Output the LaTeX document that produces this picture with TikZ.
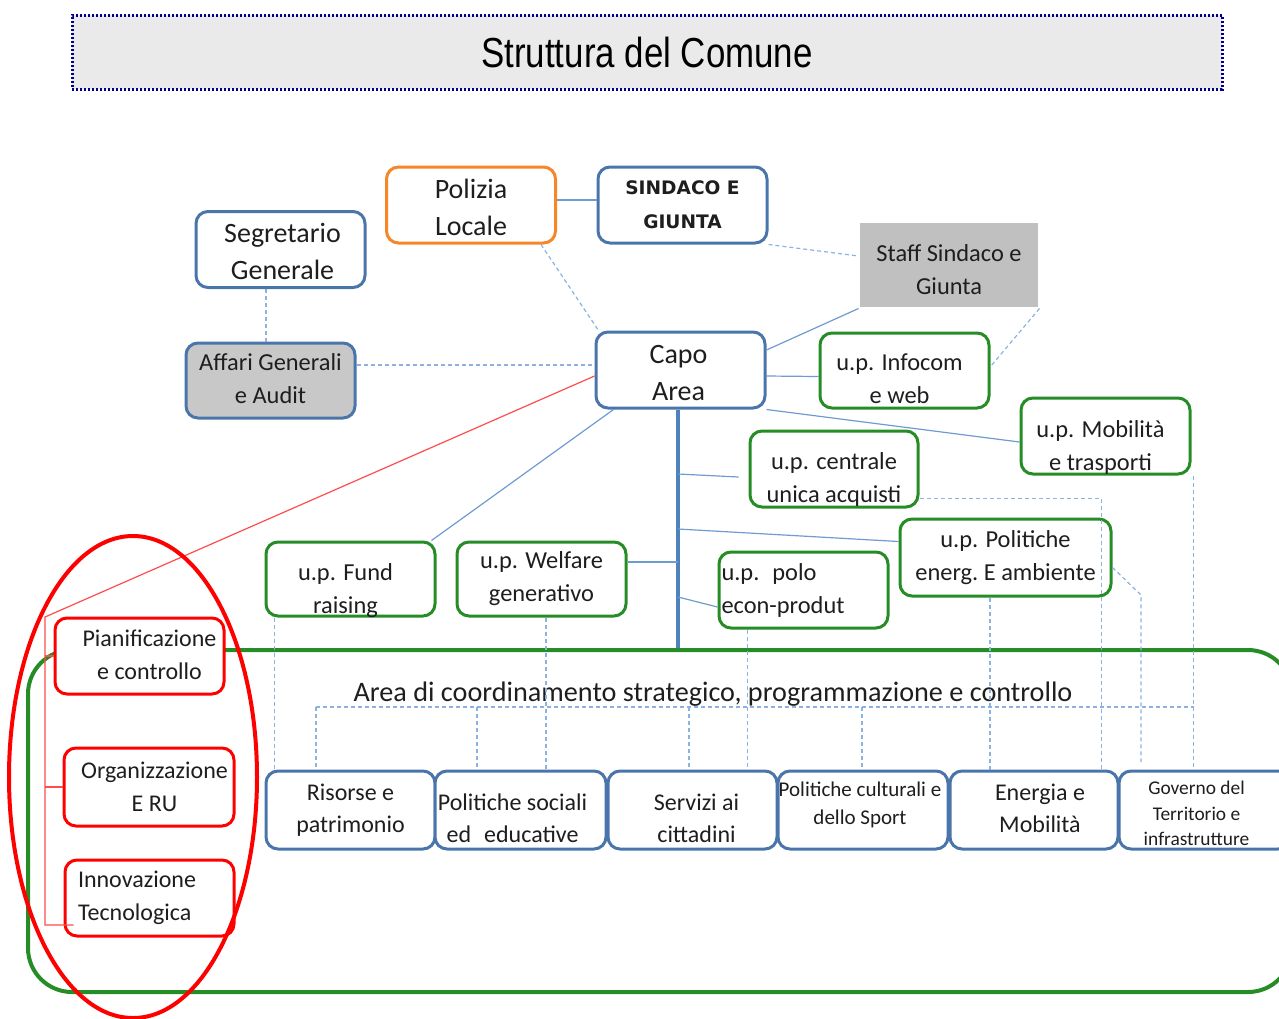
\documentclass[tikz,border=0pt]{standalone}
\usepackage{fontspec}
\setmainfont{Carlito}
\newfontfamily\titlefont[FakeStretch=0.83]{Liberation Sans}
\newfontfamily\giuntafont{DejaVu Sans}

\definecolor{boxblue}{RGB}{74,117,170}
\definecolor{boxgreen}{RGB}{38,140,38}
\definecolor{boxorange}{RGB}{247,134,40}
\definecolor{linkblue}{RGB}{110,155,210}
\definecolor{dashblue}{RGB}{140,178,226}
\definecolor{trunkblue}{RGB}{79,129,189}
\definecolor{titlenavy}{RGB}{0,0,140}
\definecolor{titlegray}{RGB}{234,234,234}
\definecolor{staffgray}{RGB}{192,192,192}
\definecolor{affgray}{RGB}{200,200,200}
\definecolor{txt}{RGB}{30,30,30}

% testo spostato di (#1 a destra, #2 in basso)
\newcommand\txtat[3]{\raisebox{-#2}[\height][\depth]{\kern#1\begin{tabular}{@{}c@{}}#3\end{tabular}\kern-#1}}

\begin{document}
\begin{tikzpicture}[x=0.5pt,y=-0.5pt]
	\tikzstyle{bx}=[rectangle, rounded corners=6pt, line width=1.5pt, fill=white, text=txt, inner sep=0pt, align=center, minimum width=84.5pt, minimum height=38pt]
	\tikzstyle{bb}=[bx, draw=boxblue, font=\fontsize{14}{18.5}\selectfont]
	\tikzstyle{ob}=[bx, draw=boxorange, font=\fontsize{14}{18.5}\selectfont]
	\tikzstyle{gb}=[bx, draw=boxgreen, font=\fontsize{12.2}{16.5}\selectfont]
	\tikzstyle{rb}=[bx, draw=red, font=\fontsize{12}{16.5}\selectfont]
	\tikzstyle{lb}=[bx, draw=boxblue, minimum height=39pt, font=\fontsize{12}{16}\selectfont]
	\tikzstyle{sl}=[linkblue, line width=0.6pt]
	\tikzstyle{dl}=[dashblue, line width=0.6pt, dash pattern=on 2pt off 1.5pt]
	\tikzstyle{rl}=[red!70, line width=0.6pt]

	\useasboundingbox (0,0) rectangle (1279,1018);

	% title
	\node[draw=titlenavy, fill=titlegray, line width=1.5pt, dash pattern=on 1pt off 1pt, minimum width=575pt, minimum height=37pt, inner sep=0pt, font=\titlefont\fontsize{21}{25}\selectfont] (title) at (647,52) {Struttura del Comune};

	% area di coordinamento
	\node[draw=boxgreen, line width=2pt, rounded corners=22pt, minimum width=632pt, minimum height=171pt, inner sep=0pt] (area) at (660,821) {};
	\node[text=txt, font=\fontsize{14.1}{17}\selectfont] (arealbl) at (713,694) {Area di coordinamento strategico, programmazione e controllo};

	% vertici
	\node[ob] (pol) at (471,205) {\txtat{0pt}{2.5pt}{Polizia\\Locale}};
	\node[bb, font=\giuntafont\bfseries\fontsize{9.3}{17}\selectfont] (sind) at (682.5,205) {SINDACO E\\GIUNTA};
	\node[bb] (seg) at (280.5,249.5) {\txtat{1pt}{2pt}{Segretario\\Generale}};
	\node[bx, fill=staffgray, rounded corners=0pt, minimum width=89pt, minimum height=42pt, font=\fontsize{12.2}{16.5}\selectfont] (staff) at (949,265) {\txtat{0pt}{3pt}{Staff Sindaco e\\Giunta}};
	\node[bb, fill=affgray, minimum height=37.5pt, font=\fontsize{12.2}{16.5}\selectfont] (aff) at (270.5,380.5) {\txtat{0pt}{0pt}{Affari Generali\\e Audit}};
	\node[bb] (capo) at (680.5,370) {\txtat{-1pt}{2.5pt}{Capo\\Area}};

	% unita di progetto
	\node[gb, minimum height=37.5pt] (info) at (904.5,370.5) {\txtat{-2.5pt}{5pt}{u.p. Infocom\\e web}};
	\node[gb] (mob) at (1105.5,436) {\txtat{-2.5pt}{5.5pt}{u.p. Mobilità\\e trasporti}};
	\node[gb, minimum width=84pt] (cua) at (834,469) {\txtat{0pt}{5pt}{u.p. centrale\\unica acquisti}};
	\node[gb, minimum width=105.5pt, minimum height=38.5pt] (pen) at (1005.5,557.5) {u.p. Politiche\\energ.\ E ambiente};
	\node[gb, align=left, text width=82pt, inner xsep=1.25pt] (polo) at (803.5,590) {u.p.\kern6.5pt polo\\econ-produt};
	\node[gb, minimum height=37pt] (fund) at (350.5,579) {\txtat{-2.5pt}{5.75pt}{u.p. Fund\\raising}};
	\node[gb, minimum height=37pt] (welf) at (541.5,579) {u.p. Welfare\\generativo};

	% staff di coordinamento
	\node[rb] (pian) at (139.5,656) {\txtat{5pt}{0pt}{Pianificazione\\e controllo}};
	\node[rb, minimum width=85pt, minimum height=39pt] (org) at (149,787) {\txtat{2.75pt}{0.5pt}{Organizzazione\\E RU}};
	\node[rb, align=left, text width=71.5pt, inner xsep=6.5pt] (inn) at (149.5,898) {Innovazione\\Tecnologica};

	% aree
	\node[lb] (ris) at (350.5,810) {Risorse e\\patrimonio};
	\node[lb, minimum width=85.5pt] (pso) at (520.5,810) {\txtat{-4pt}{5pt}{Politiche sociali\\ed\kern6.5pt educative}};
	\node[lb] (ser) at (692.5,810) {\txtat{2pt}{5pt}{Servizi ai\\cittadini}};
	\node[lb, minimum width=85pt, font=\fontsize{10.5}{14}\selectfont] (pcu) at (863,810) {\txtat{-1.5pt}{-2.5pt}{Politiche culturali e\\dello Sport}};
	\node[lb, minimum width=84pt] (ene) at (1034,810) {\txtat{3pt}{0pt}{Energia e\\Mobilità}};
	\node[lb, minimum width=85.5pt, font=\fontsize{9.7}{12.75}\selectfont] (gov) at (1204.5,810) {\txtat{-4pt}{2.5pt}{Governo del\\Territorio e\\infrastrutture}};

	% collegamenti
	\coordinate (tk) at (678,648);
	\coordinate (j1) at (678,474);
	\coordinate (j2) at (678,529);
	\coordinate (j3) at (678,562);
	\coordinate (j4) at (678,597);
	\coordinate (rtop) at (45,617);
	\coordinate (rbot) at (45,925);

	\draw[trunkblue, line width=2pt] (capo.south -| tk) -- (tk);
	\draw[sl] ([yshift=2.5pt]pol.east) -- ([yshift=2.5pt]sind.west);
	\draw[sl] (staff.south west) -- ([yshift=10pt]capo.east);
	\draw[sl] ([yshift=-3pt]capo.east) -- ([yshift=-3pt]info.west);
	\draw[sl] (capo.south east) -- ([yshift=-3pt]mob.west);
	\draw[sl] ([xshift=9.5pt]capo.south west) -- ([xshift=-2.5pt]fund.north east);
	\draw[sl] (j1) -- ([xshift=-5pt,yshift=-4pt]cua.west);
	\draw[sl] (j2) -- ([yshift=8pt]pen.west);
	\draw[sl] (j3) -- (j3 -| welf.east);
	\draw[sl] (j4) -- ([yshift=-8.5pt]polo.west);

	\draw[rl] ([yshift=-3pt]capo.west) -- (rtop) -- (rbot) -- ([xshift=5pt]rbot -| inn.west);
	\draw[rl] (rtop |- pian.west) -- (pian.west);
	\draw[rl] (rtop |- org.west) -- (org.west);

	\path ([xshift=-2.25pt]aff.north) coordinate (d1)
		([yshift=7.75pt]aff.east) coordinate (d2)
		([xshift=5pt]fund.south west) coordinate (d3)
		([xshift=2.25pt]welf.south) coordinate (d4)
		([xshift=15pt]polo.south west) coordinate (d5)
		([xshift=-7.75pt]pen.south) coordinate (d6)
		([yshift=5pt]cua.south east) coordinate (d7)
		([xshift=1pt]mob.south east) coordinate (d8)
		([yshift=-5pt]pen.east) coordinate (d9);
	\coordinate (d10) at (1141,595);
	\coordinate (busL) at (316,707);
	\coordinate (busR) at (d8 |- busL);

	\draw[dl] (sind.south east) -- ([yshift=4.5pt]staff.west);
	\draw[dl] ([xshift=-8pt]pol.south east) -- ([xshift=2pt]capo.north west);
	\draw[dl] (staff.south east) -- ([yshift=2pt]info.east);
	\draw[dl] (d1) -- (d1 |- seg.south);
	\draw[dl] (d2) -- (d2 -| capo.west);
	\draw[dl] (d3) -- (d3 |- ris.north);
	\draw[dl] (d4) -- (d4 |- pso.north);
	\draw[dl] (d5) -- (d5 |- ser.north);
	\draw[dl] (d6) -- (d6 |- ene.north);
	\draw[dl] (d7) -- ++(182,0) coordinate (d7b) -- (d7b |- ene.north);
	\draw[dl] (d9) -- (d10) -- ++(0,167);
	\draw[dl] (d8) -- (d8 |- gov.north);
	\draw[dl] (busL) -- (busR);
	\foreach \x/\b in {316/ris,477/pso,689/ser,862/pcu} {
		\coordinate (v) at (\x,707);
		\draw[dl] (v) -- (v |- \b.north);
	}

	% ellisse
	\draw[red, line width=2pt] (133,777) ellipse [x radius=62pt, y radius=120.5pt];
\end{tikzpicture}
\end{document}
